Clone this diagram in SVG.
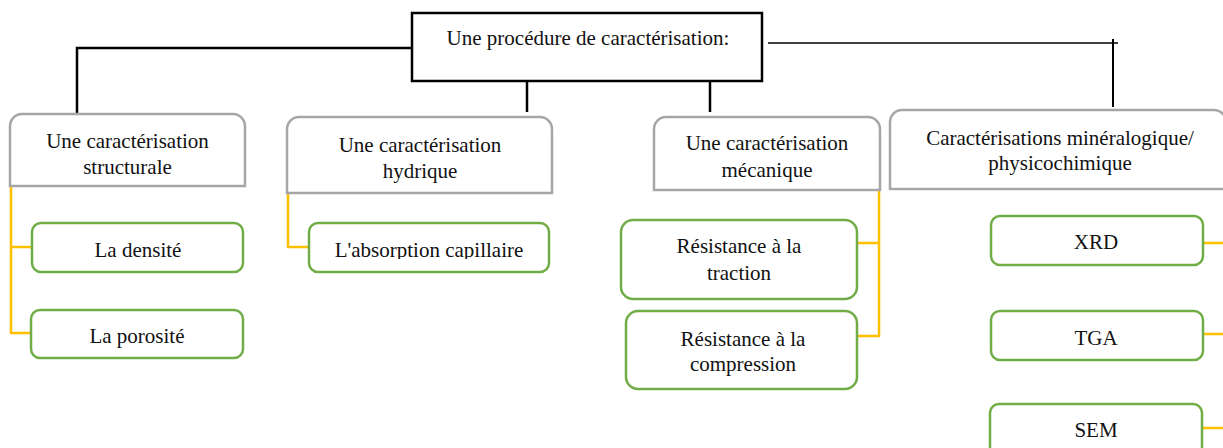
<svg xmlns="http://www.w3.org/2000/svg" width="1223" height="448" viewBox="0 0 1223 448">
<style>
text{font-family:"Liberation Serif","Times New Roman",serif;font-size:21px;fill:#111;text-anchor:middle}
.cat{fill:#fff;stroke:#a6a6a6;stroke-width:2.5}
.leaf{fill:#fff;stroke:#70ad47;stroke-width:2.5}
.y{fill:none;stroke:#ffc000;stroke-width:2.5}
.k{fill:none;stroke:#000;stroke-width:2.5}
</style>
<defs>
<clipPath id="clipAbs"><rect x="300" y="220" width="260" height="39"/></clipPath>
</defs>
<g id="connectors">
<path class="k" d="M412,48 H77 V113"/>
<path class="k" d="M527,81 V112"/>
<path class="k" d="M710,81 V112"/>
<path fill="none" stroke="#000" stroke-width="1.5" d="M768,43 H1118"/>
<path fill="none" stroke="#000" stroke-width="2" d="M1113,39 V107"/>
<path class="y" d="M11,186 V333 H31 M11,247 H32"/>
<path class="y" d="M288,193 V247 H309"/>
<path class="y" d="M879,190 V336 H857 M879,243 H857"/>
<path class="y" d="M1203,243 H1226 M1203,334 H1226 M1202,428 H1226"/>
</g>
<g id="root">
<rect x="412" y="13" width="350" height="68" fill="#fff" stroke="#000" stroke-width="2.5"/>
<text x="588" y="45">Une procédure de caractérisation:</text>
</g>
<g id="structurale">
<path class="cat" d="M10,186 V126 A12,12 0 0 1 22,114 H233 A12,12 0 0 1 245,126 V186 Z"/>
<text x="127.5" y="148">Une caractérisation</text>
<text x="127.5" y="174">structurale</text>
</g>
<g id="hydrique">
<path class="cat" d="M287,193 V129 A12,12 0 0 1 299,117 H540 A12,12 0 0 1 552,129 V193 Z"/>
<text x="420" y="152">Une caractérisation</text>
<text x="420" y="178">hydrique</text>
</g>
<g id="mecanique">
<path class="cat" d="M654,190 V129 A12,12 0 0 1 666,117 H868 A12,12 0 0 1 880,129 V190 Z"/>
<text x="767" y="150">Une caractérisation</text>
<text x="767" y="177">mécanique</text>
</g>
<g id="mineralogique">
<path class="cat" d="M890,189 V122 A12,12 0 0 1 902,110 H1214 A12,12 0 0 1 1226,122 V189 Z"/>
<text x="1060" y="145">Caractérisations minéralogique/</text>
<text x="1060" y="170">physicochimique</text>
</g>
<g id="densite">
<rect class="leaf" x="32" y="223" width="211" height="49" rx="9"/>
<text x="138" y="257">La densité</text>
</g>
<g id="porosite">
<rect class="leaf" x="31" y="310" width="212" height="48" rx="9"/>
<text x="137" y="343">La porosité</text>
</g>
<g id="absorption">
<rect class="leaf" x="309" y="223" width="240" height="49" rx="9"/>
<text x="429" y="257" clip-path="url(#clipAbs)">L'absorption capillaire</text>
</g>
<g id="traction">
<rect class="leaf" x="621" y="220" width="236" height="79" rx="12"/>
<text x="739" y="253">Résistance à la</text>
<text x="739" y="280">traction</text>
</g>
<g id="compression">
<rect class="leaf" x="626" y="311" width="231" height="78" rx="12"/>
<text x="743" y="346">Résistance à la</text>
<text x="743" y="371">compression</text>
</g>
<g id="xrd">
<rect class="leaf" x="991" y="216" width="212" height="49" rx="9"/>
<text x="1096" y="249">XRD</text>
</g>
<g id="tga">
<rect class="leaf" x="991" y="311" width="212" height="49" rx="9"/>
<text x="1096" y="345">TGA</text>
</g>
<g id="sem">
<rect class="leaf" x="990" y="404" width="212" height="60" rx="9"/>
<text x="1096" y="437">SEM</text>
</g>
</svg>
